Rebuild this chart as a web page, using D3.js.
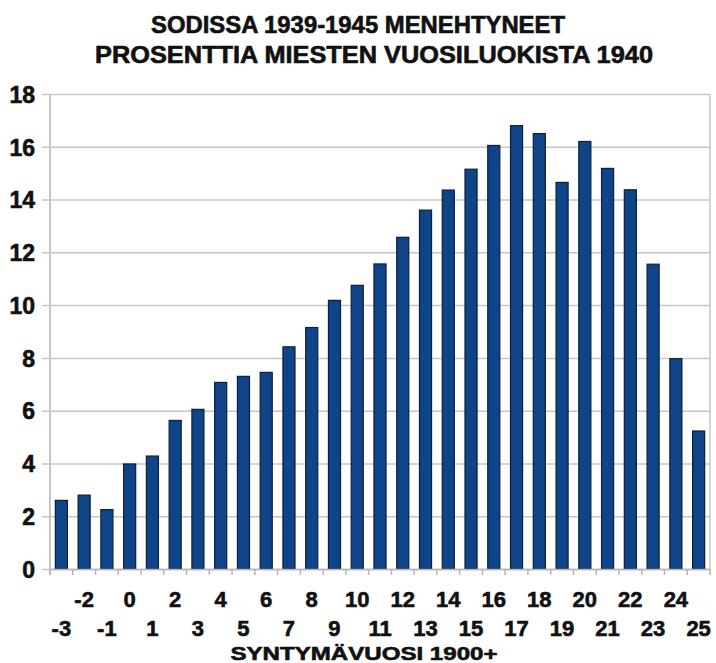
<!DOCTYPE html>
<html><head><meta charset="utf-8">
<script src="https://cdn.jsdelivr.net/npm/d3@7/dist/d3.min.js"></script>
<style>body{margin:0;background:#fff}svg{display:block}text{font-family:"Liberation Sans",Arial,sans-serif;font-weight:bold;fill:#111;stroke:#111;stroke-width:0.6px}</style>
</head><body>
<script>
const categories = ["-3","-2","-1","0","1","2","3","4","5","6","7","8","9","10","11","12","13","14","15","16","17","18","19","20","21","22","23","24","25"];
const values = [2.6,2.8,2.25,3.98,4.28,5.63,6.05,7.07,7.3,7.45,8.42,9.15,10.18,10.75,11.56,12.57,13.6,14.36,15.15,16.05,16.8,16.5,14.65,16.2,15.18,14.37,11.55,7.97,5.23];
const yTicks = [0,2,4,6,8,10,12,14,16,18];
const titleLines = ["SODISSA 1939-1945 MENEHTYNEET","PROSENTTIA MIESTEN VUOSILUOKISTA 1940"];
const xTitle = "SYNTYMÄVUOSI 1900+";

const W=716,H=663, L=50, R=710, T=94, B=569;
const svg=d3.select("body").append("svg").attr("width",W).attr("height",H);
const pad=0.47;
const x=d3.scaleBand().domain(categories).range([L,R]).paddingInner(pad).paddingOuter(pad/2);
const y=d3.scaleLinear().domain([0,18]).range([B,T]);

// title
svg.append("text").attr("x",358).attr("y",33).attr("text-anchor","middle").style("font-size","23px")
  .attr("textLength",414).attr("lengthAdjust","spacingAndGlyphs").text(titleLines[0]);
svg.append("text").attr("x",374).attr("y",63).attr("text-anchor","middle").style("font-size","23px")
  .attr("textLength",558).attr("lengthAdjust","spacingAndGlyphs").text(titleLines[1]);

// y axis + grid
const ya=svg.append("g").attr("transform",`translate(${L},0)`)
  .call(d3.axisLeft(y).tickValues(yTicks).tickSizeInner(8).tickSizeOuter(0).tickPadding(7));
ya.select(".domain").attr("stroke","#b5b5b5").attr("stroke-width",1.5).attr("d",`M0,${T}V${B+6}`);
ya.selectAll(".tick line").attr("stroke","#c6c6c6").attr("stroke-width",1.5).attr("x1",-8).attr("x2",R-L);
ya.selectAll(".tick text").style("font-size","23px").style("font-family","'Liberation Sans',Arial,sans-serif").attr("fill","#111").attr("dy","0.36em");

// right border
svg.append("line").attr("x1",R).attr("x2",R).attr("y1",T).attr("y2",B).attr("stroke","#c6c6c6").attr("stroke-width",1.5);

// bars
svg.append("g").selectAll("rect").data(values).join("rect")
  .attr("x",(d,i)=>x(categories[i])).attr("width",x.bandwidth())
  .attr("y",d=>y(d)).attr("height",d=>B-y(d))
  .attr("fill","#0f4588").attr("stroke","#0b1f3d").attr("stroke-width",1.2);

// x axis
const xa=svg.append("g").attr("transform",`translate(0,${B})`)
  .call(d3.axisBottom(x).tickSize(0).tickPadding(0));
xa.select(".domain").attr("stroke","#b5b5b5").attr("stroke-width",1.5);
xa.selectAll(".tick text").style("font-size","22px").style("font-family","'Liberation Sans',Arial,sans-serif").attr("fill","#111")
  .attr("dy",null).attr("y",(d,i)=> i%2===0 ? 67 : 38);
const step=x.step();
svg.append("g").selectAll("line").data(d3.range(categories.length+1)).join("line")
  .attr("x1",i=>L+i*step).attr("x2",i=>L+i*step).attr("y1",B).attr("y2",B+6)
  .attr("stroke","#b5b5b5").attr("stroke-width",1.5);

svg.append("text").attr("x",364).attr("y",660).attr("text-anchor","middle").style("font-size","19px")
  .attr("textLength",267).attr("lengthAdjust","spacingAndGlyphs").text(xTitle);
</script>
</body></html>
